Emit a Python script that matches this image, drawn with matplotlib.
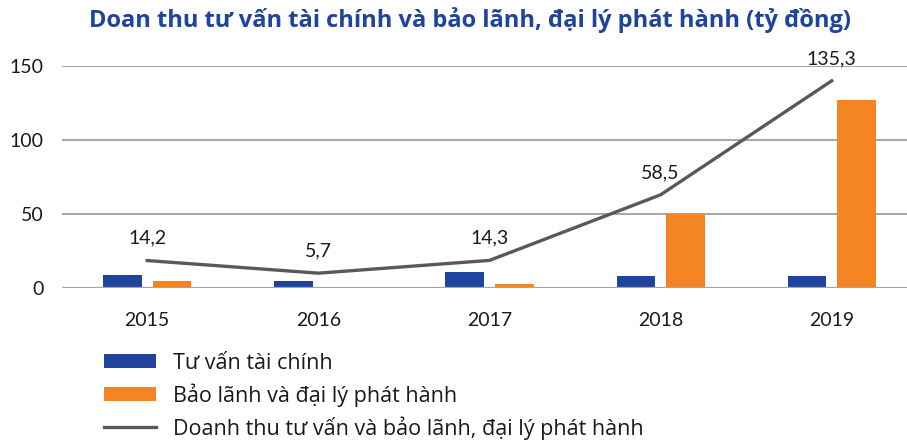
import numpy as np
import matplotlib.pyplot as plt
from matplotlib.patches import Patch
from matplotlib.lines import Line2D

plt.rcParams['font.family'] = ['Lato', 'DejaVu Sans']

years = ['2015', '2016', '2017', '2018', '2019']
tu_van = [9.0, 5.2, 11.3, 8.5, 8.5]
bao_lanh = [5.2, 0.5, 3.0, 50.0, 126.8]
tong = [14.2, 5.7, 14.3, 58.5, 135.3]
tong_labels = ['14,2', '5,7', '14,3', '58,5', '135,3']

c_blue = '#1E449B'
c_orange = '#F58423'
c_line = '#595959'
c_grid = '#A6A6A6'

fig = plt.figure(figsize=(9.07, 4.43), dpi=100)
ax = fig.add_axes([0.068, 0.3492, 0.932, 0.5025])

x = np.arange(len(years))
w = 0.225
ax.bar(x - 0.145, tu_van, w, color=c_blue, zorder=3)
ax.bar(x + 0.145, bao_lanh, w, color=c_orange, zorder=3)

ax.set_xlim(-0.5, 4.44)
ax.set_ylim(0, 150)
ax.set_yticks([0, 50, 100, 150])
ax.grid(axis='y', color=c_grid, linewidth=1.4, zorder=0)
ax.set_axisbelow(True)
for s in ax.spines.values():
    s.set_visible(False)
ax.axhline(0, color=c_grid, linewidth=1.6, zorder=4)
ax.set_xticks(x)
ax.set_xticklabels(years)
ax.tick_params(axis='both', length=0, labelsize=14, colors='#1a1a1a')
ax.tick_params(axis='x', pad=17)
ax.tick_params(axis='y', pad=13)

# duong tong doanh thu: truc phu lech nhe nhu ban goc
ax2 = ax.twinx()
ax2.set_ylim(-4.5, 145.5)
ax2.axis('off')
ax2.plot(x, tong, color=c_line, linewidth=2.4, zorder=5)
for xi, v, lab in zip(x, tong, tong_labels):
    ax2.annotate(lab, (xi, v), xytext=(0, 16), textcoords='offset points',
                 ha='center', va='center', fontsize=14, color='#1a1a1a')

fig.text(0.5177, 0.955, 'Doan thu tư vấn tài chính và bảo lãnh, đại lý phát hành (tỷ đồng)',
         ha='center', va='center', fontsize=17, fontweight='bold', color='#1E449B',
         family=['Open Sans', 'DejaVu Sans'])

handles = [Patch(facecolor=c_blue), Patch(facecolor=c_orange),
           Line2D([], [], color=c_line, linewidth=2.4)]
labels = ['Tư vấn tài chính', 'Bảo lãnh và đại lý phát hành',
          'Doanh thu tư vấn và bảo lãnh, đại lý phát hành']
fig.legend(handles, labels, loc='center left', bbox_to_anchor=(0.1147, 0.106),
           frameon=False, prop={'family': ['Open Sans', 'DejaVu Sans'], 'size': 15.5},
           handlelength=2.42, handleheight=0.63, labelspacing=0.44,
           handletextpad=0.8, borderaxespad=0, borderpad=0, labelcolor='#1a1a1a')

fig.savefig('out.png', dpi=100)
